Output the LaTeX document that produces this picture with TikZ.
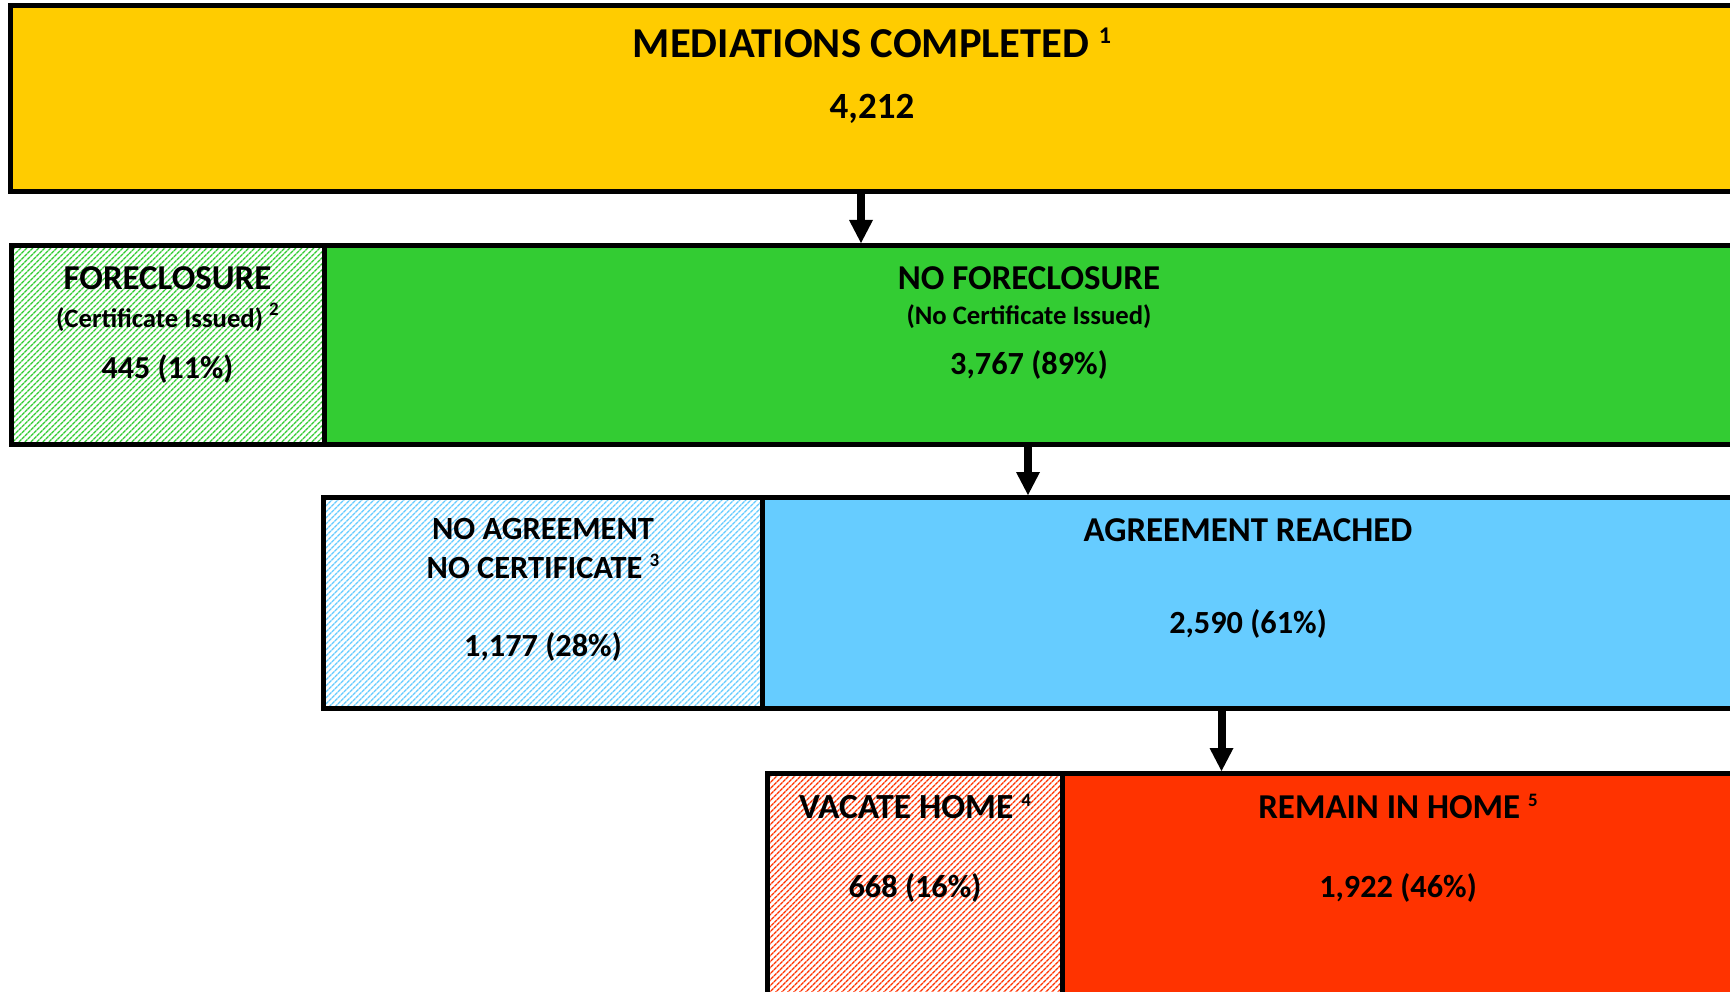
\documentclass[tikz,border=0pt]{standalone}
\usepackage{fontspec}
\setmainfont{Carlito}
\usetikzlibrary{arrows.meta,patterns.meta}
\definecolor{cyel}{HTML}{FFCC00}
\definecolor{cgrn}{HTML}{33CC33}
\definecolor{cblu}{HTML}{66CCFF}
\definecolor{cred}{HTML}{FF3300}
\newcommand\fnt[1]{\fontsize{#1}{#1}\selectfont\bfseries}
\newcommand\mysup[3]{\raisebox{#1pt}{\fontsize{#2}{#2}\selectfont #3}}
\begin{document}
\begin{tikzpicture}[x=1pt,y=-1pt,
  box/.style={draw=black, line width=5pt, rectangle, inner sep=0pt, outer sep=0pt, anchor=north west},
  hatch/.style={pattern={Lines[angle=45,distance=4pt,line width=1.4pt]}, pattern color=#1},
  lbl/.style={anchor=base, inner sep=0pt, align=center, text=black},
  arr/.style={line width=8pt, -{Triangle[width=24pt,length=23pt,line width=0pt]}, shorten >=2.5pt},
]
\useasboundingbox (0,0) rectangle (1730,992);
\clip (0,0) rectangle (1730,992);
\fill[white] (0,0) rectangle (1730,992);

% boxes
\node[box, fill=cyel, minimum width=1724pt, minimum height=186pt] (med) at (10,5.5) {};

\node[box, hatch=cgrn, minimum width=312.5pt, minimum height=199pt] (fc) at (11.5,245.5) {};
\node[box, fill=cgrn, minimum width=1410pt, minimum height=199pt] (nofc) at (324,245.5) {};

\node[box, hatch=cblu, minimum width=439pt, minimum height=210.5pt] (noagr) at (323.5,497.5) {};
\node[box, fill=cblu, minimum width=971.5pt, minimum height=210.5pt] (agr) at (762.5,497.5) {};

\node[box, hatch=cred, minimum width=295pt, minimum height=240pt] (vac) at (767.5,773.5) {};
\node[box, fill=cred, minimum width=671.5pt, minimum height=240pt] (rem) at (1062.5,773.5) {};

% texts
\node[lbl, font={\fnt{42.6}}] (tmed) at (872,58) {MEDIATIONS COMPLETED \mysup{14}{24}{1}};
\node[lbl, font={\fnt{37}}] (nmed) at (872,119) {4,212};

\node[lbl, font={\fnt{34.9}}] (tfc) at (167.5,290) {FORECLOSURE};
\node[lbl, font={\fnt{26.7}}] (sfc) at (167.5,327.5) {(Certificate Issued) \mysup{12}{19}{2}};
\node[lbl, font={\fnt{32}}] (nfc) at (167.5,378) {445 (11\%)};

\node[lbl, font={\fnt{34.9}}] (tnofc) at (1029,289.5) {NO FORECLOSURE};
\node[lbl, font={\fnt{26.7}}] (snofc) at (1029,325) {(No Certificate Issued)};
\node[lbl, font={\fnt{32.3}}] (nnofc) at (1029,374) {3,767 (89\%)};

\node[lbl, font={\fnt{32.4}}] (tnoagr1) at (543,539.5) {NO AGREEMENT};
\node[lbl, font={\fnt{32.4}}] (tnoagr2) at (543,578.5) {NO CERTIFICATE \mysup{12}{19}{3}};
\node[lbl, font={\fnt{32.3}}] (nnoagr) at (543,656) {1,177 (28\%)};

\node[lbl, font={\fnt{34.9}}] (tagr) at (1248,541.7) {AGREEMENT REACHED};
\node[lbl, font={\fnt{32.3}}] (nagr) at (1248,633.3) {2,590 (61\%)};

\node[lbl, font={\fnt{35.3}}] (tvac) at (915,818.7) {VACATE HOME \mysup{12.5}{19}{4}};
\node[lbl, font={\fnt{32.3}}] (nvac) at (915,897.7) {668 (16\%)};

\node[lbl, font={\fnt{34.9}}] (trem) at (1398,818.7) {REMAIN IN HOME \mysup{12.5}{19}{5}};
\node[lbl, font={\fnt{32.3}}] (nrem) at (1398,897.7) {1,922 (46\%)};

% arrows
\coordinate (a1) at (861,0);
\coordinate (a2) at (1028,0);
\coordinate (a3) at (1221.5,0);
\draw[arr] (med.south -| a1) -- (nofc.north -| a1);
\draw[arr] (nofc.south -| a2) -- (agr.north -| a2);
\draw[arr] (agr.south -| a3) -- (rem.north -| a3);
\end{tikzpicture}
\end{document}
